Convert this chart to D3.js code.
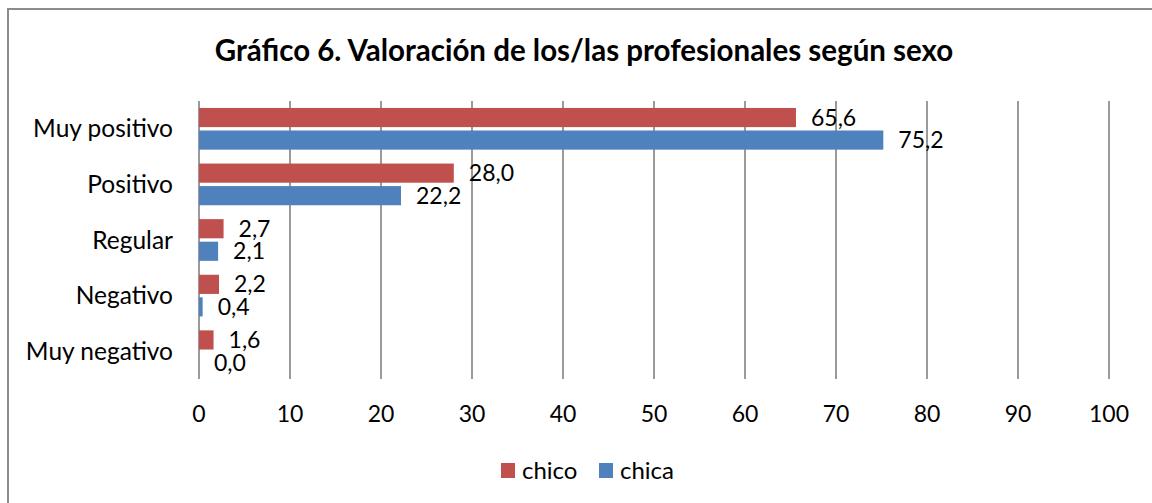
<!DOCTYPE html>
<html lang="es">
<head>
<meta charset="UTF-8">
<style>
  body { margin: 0; background: #fff; }
  svg { display: block; font-family: Lato, "Open Sans", sans-serif; }
</style>
</head>
<body>
<svg id="chart" width="1152" height="503"></svg>
<script src="https://d3js.org/d3.v7.min.js"></script>
<script>
// data
var categories = ["Muy positivo", "Positivo", "Regular", "Negativo", "Muy negativo"];
var series = ["chico", "chica"];
var chico = [65.6, 28.0, 2.7, 2.2, 1.6];
var chica = [75.2, 22.2, 2.1, 0.4, 0.0];
var ticks = [0, 10, 20, 30, 40, 50, 60, 70, 80, 90, 100];
var colors = ["#C0504D", "#4F81BD"];
var title = "Gráfico 6. Valoración de los/las profesionales según sexo";

var svg = d3.select("#chart");

// outer frame (runs off the right and bottom edges)
svg.append("rect")
  .attr("x", 8).attr("y", 9)
  .attr("width", 1160).attr("height", 510)
  .attr("fill", "#fff")
  .attr("stroke", "#8c8c8c")
  .attr("stroke-width", 2);

svg.append("text")
  .attr("x", 584).attr("y", 61)
  .attr("text-anchor", "middle")
  .attr("font-weight", "bold")
  .attr("font-size", 29.5)
  .text(title);

var x = d3.scaleLinear().domain([0, 100]).range([199, 1109]);
var y = d3.scaleBand().domain(categories).range([101, 379])
  .paddingInner(0.25).paddingOuter(0.125);
var ySub = d3.scaleBand().domain(series).range([0, y.bandwidth()]).paddingInner(0.15);

// gridlines
svg.append("g")
  .selectAll("line")
  .data(ticks)
  .join("line")
  .attr("x1", d => x(d)).attr("x2", d => x(d))
  .attr("y1", 101).attr("y2", 379)
  .attr("stroke", "#9a9a9a")
  .attr("stroke-width", 2);

// x tick labels
svg.append("g")
  .selectAll("text")
  .data(ticks)
  .join("text")
  .attr("x", d => x(d)).attr("y", 422)
  .attr("text-anchor", "middle")
  .attr("font-size", 23)
  .text(d => d);

// category labels
svg.append("g")
  .selectAll("text")
  .data(categories)
  .join("text")
  .attr("x", 173)
  .attr("y", d => y(d) + y.bandwidth() / 2)
  .attr("dy", "0.35em")
  .attr("text-anchor", "end")
  .attr("font-size", 24.5)
  .text(d => d);

var rows = [];
categories.forEach(function(c, i) {
  rows.push({cat: c, s: "chico", v: chico[i], color: colors[0]});
  rows.push({cat: c, s: "chica", v: chica[i], color: colors[1]});
});

var fmt = d => d.toFixed(1).replace(".", ",");

svg.append("g")
  .selectAll("rect")
  .data(rows)
  .join("rect")
  .attr("x", x(0))
  .attr("y", d => y(d.cat) + ySub(d.s))
  .attr("width", d => x(d.v) - x(0))
  .attr("height", ySub.bandwidth())
  .attr("fill", d => d.color);

svg.append("g")
  .selectAll("text")
  .data(rows)
  .join("text")
  .attr("x", d => x(d.v) + 15)
  .attr("y", d => y(d.cat) + ySub(d.s) + ySub.bandwidth() / 2)
  .attr("dy", "0.35em")
  .attr("font-size", 23)
  .text(d => fmt(d.v));

// legend
var legend = svg.append("g");
var legendX = [501, 599];
series.forEach(function(s, i) {
  legend.append("rect")
    .attr("x", legendX[i]).attr("y", 463)
    .attr("width", 14).attr("height", 15)
    .attr("fill", colors[i]);
  legend.append("text")
    .attr("x", legendX[i] + 21).attr("y", 471)
    .attr("dy", "0.35em")
    .attr("font-size", 24)
    .text(s);
});
</script>
</body>
</html>
